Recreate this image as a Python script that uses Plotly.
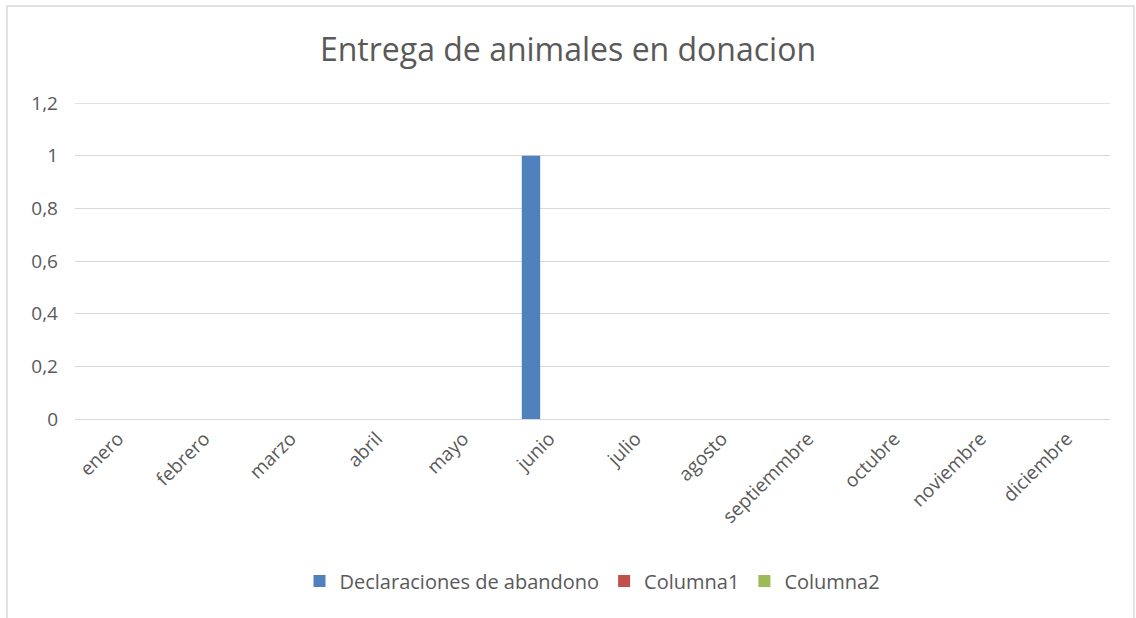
import plotly.graph_objects as go

months = ["enero", "febrero", "marzo", "abril", "mayo", "junio", "julio",
          "agosto", "septiemmbre", "octubre", "noviembre", "diciembre"]
declaraciones = [0, 0, 0, 0, 0, 1, 0, 0, 0, 0, 0, 0]
columna1 = [0] * 12
columna2 = [0] * 12
y_ticks = [0, 0.2, 0.4, 0.6, 0.8, 1, 1.2]

W, H = 1136, 618
L, R, T, B = 75, 26, 103, 199
pw, ph = W - L - R, H - T - B
FONT = "Open Sans"
GREY = "#595959"
GRID = "#D9D9D9"

fig = go.Figure()
fig.add_bar(x=months, y=declaraciones, name="Declaraciones de abandono",
            marker=dict(color="#4F81BD", line=dict(width=0)))
fig.add_bar(x=months, y=columna1, name="Columna1",
            marker=dict(color="#C0504D", line=dict(width=0)))
fig.add_bar(x=months, y=columna2, name="Columna2",
            marker=dict(color="#9BBB59", line=dict(width=0)))

def px_x(p):
    return (p - L) / pw

def px_y(p):
    return (H - B - p) / ph

fig.update_layout(
    width=W, height=H,
    margin=dict(l=L, r=R, t=T, b=B),
    paper_bgcolor="white", plot_bgcolor="white",
    barmode="group", bargap=0.36, bargroupgap=0,
    separators=",.",
    font=dict(family=FONT, color=GREY, size=19),
    title=dict(text="Entrega de animales en donacion", x=0.5, xanchor="center",
               y=1 - 50 / H, yanchor="middle",
               font=dict(family=FONT, size=32, color=GREY)),
    xaxis=dict(tickangle=-45, showgrid=False, showline=False, ticks="",
               ticklabelstandoff=4,
               tickfont=dict(size=19, color=GREY)),
    yaxis=dict(range=[y_ticks[0], y_ticks[-1]], tickvals=y_ticks,
               tickformat="~g", showgrid=True,
               gridcolor=GRID, gridwidth=1.3, zeroline=True,
               zerolinecolor=GRID, zerolinewidth=1.3, showline=False,
               ticks="", ticklen=0, ticklabelstandoff=16,
               tickfont=dict(size=19, color=GREY)),
    legend=dict(orientation="h", x=0.5, xanchor="center", y=px_y(581),
                yanchor="middle", font=dict(size=20, color=GREY),
                traceorder="normal", itemwidth=30),
    shapes=[dict(type="rect", xref="paper", yref="paper",
                 x0=px_x(7), x1=px_x(1134), y0=px_y(625), y1=px_y(6),
                 line=dict(color=GRID, width=1.5), layer="below")],
)
# top gridline (plotly omits grid lines lying on the plot edge)
fig.add_hline(y=y_ticks[-1], line=dict(color=GRID, width=1.3), layer="below")

fig.write_html("out.html", config={"displayModeBar": False},
               post_script="document.body.style.margin='0px';")
